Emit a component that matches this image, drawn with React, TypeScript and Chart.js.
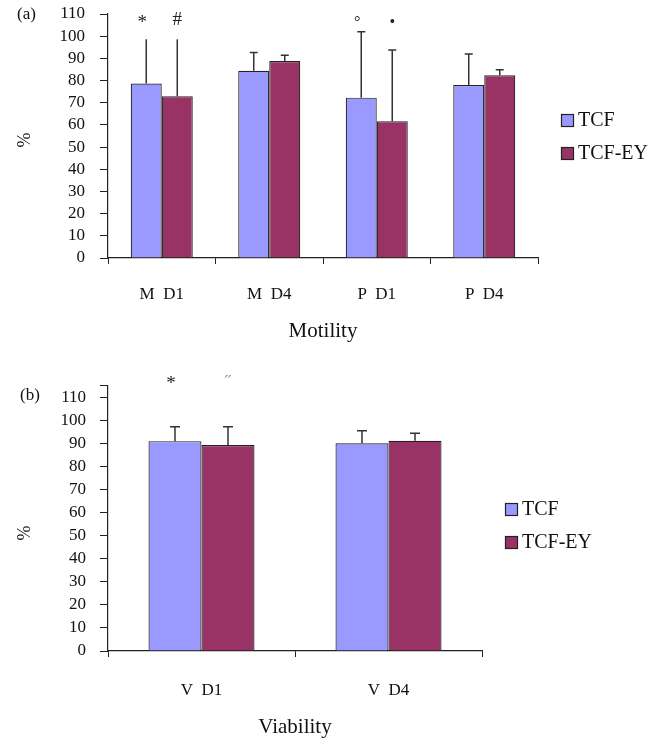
import React, { useEffect, useRef } from "react";
import { Chart, registerables } from "chart.js";

Chart.register(...registerables);

const FONT = '"Liberation Serif", "Times New Roman", serif';

// ---------- data ----------
const seriesNames = ["TCF", "TCF-EY"];
const seriesColors = ["#9999FF", "#993366"];

const motilityCategories = ["M  D1", "M  D4", "P  D1", "P  D4"];
const motilityTCF = [78.7, 84.4, 72.3, 78.0];
const motilityTCFsd = [19.9, 8.2, 29.7, 14.0];
const motilityEY = [72.9, 88.8, 61.6, 82.4];
const motilityEYsd = [25.7, 2.6, 32.2, 2.5];
const motilityCaps = [false, true, true, true];
const motilityTicks = [0, 10, 20, 30, 40, 50, 60, 70, 80, 90, 100, 110];
const motilityMarks = [
  { text: "*", ds: 0, idx: 0, v: 107.3 },
  { text: "#", ds: 1, idx: 0, v: 107.3 },
  { text: "°", ds: 0, idx: 2, v: 106.2 },
  { text: "•", ds: 1, idx: 2, v: 106.2 },
];

const viabilityCategories = ["V  D1", "V  D4"];
const viabilityTCF = [90.9, 90.0];
const viabilityTCFsd = [6.2, 5.4];
const viabilityEY = [89.2, 91.1];
const viabilityEYsd = [7.9, 3.2];
const viabilityCaps = [true, true];
const viabilityTicks = [0, 10, 20, 30, 40, 50, 60, 70, 80, 90, 100, 110, 115];
const viabilityMarks = [
  { text: "*", ds: 0, idx: 0, v: 116.9 },
  { text: "\u02DD", ds: 1, idx: 0, v: 116.0 },
];

type PanelCfg = {
  top: number;
  height: number;
  categories: string[];
  values: number[][];
  sds: number[][];
  caps: boolean[];
  ticks: number[];
  max: number;
  marks: { text: string; ds: number; idx: number; v: number }[];
  panelLabel: string;
  axisTitle: string;
  // layout
  padTop: number;
  padRight: number;
  xScaleHeight: number;
  yLabelPad: number;
  xLabelPad: number;
  catPct: number;
  capW: number;
  panelLabelPos: [number, number];
  pctPos: [number, number];
  titleY: number;
  legendPos: [number, number];
};

const panels: PanelCfg[] = [
  {
    top: 0,
    height: 362,
    categories: motilityCategories,
    values: [motilityTCF, motilityEY],
    sds: [motilityTCFsd, motilityEYsd],
    caps: motilityCaps,
    ticks: motilityTicks,
    max: 110,
    marks: motilityMarks,
    panelLabel: "(a)",
    axisTitle: "Motility",
    padTop: 14,
    padRight: 120,
    xScaleHeight: 104,
    yLabelPad: 15,
    xLabelPad: 20,
    catPct: 0.577,
    capW: 8,
    panelLabelPos: [17, 15],
    pctPos: [25, 140],
    titleY: 331,
    legendPos: [561, 114],
  },
  {
    top: 362,
    height: 379,
    categories: viabilityCategories,
    values: [viabilityTCF, viabilityEY],
    sds: [viabilityTCFsd, viabilityEYsd],
    caps: viabilityCaps,
    ticks: viabilityTicks,
    max: 115,
    marks: viabilityMarks,
    panelLabel: "(b)",
    axisTitle: "Viability",
    padTop: 23.5,
    padRight: 176,
    xScaleHeight: 90,
    yLabelPad: 14,
    xLabelPad: 23,
    catPct: 0.567,
    capW: 10,
    panelLabelPos: [20, 34],
    pctPos: [25, 171],
    titleY: 365,
    legendPos: [505, 141],
  },
];

function makeOverlay(cfg: PanelCfg) {
  return {
    id: "overlay",
    afterDatasetsDraw(chart: any) {
      const ctx: CanvasRenderingContext2D = chart.ctx;
      const y = chart.scales.y;
      ctx.save();
      // error bars
      chart.data.datasets.forEach((ds: any, di: number) => {
        const meta = chart.getDatasetMeta(di);
        meta.data.forEach((bar: any, i: number) => {
          const topPx = y.getPixelForValue(ds.data[i] + cfg.sds[di][i]);
          ctx.strokeStyle = "#333";
          ctx.lineWidth = 1.5;
          ctx.beginPath();
          ctx.moveTo(bar.x, bar.y);
          ctx.lineTo(bar.x, topPx);
          if (cfg.caps[i]) {
            ctx.moveTo(bar.x - cfg.capW / 2, topPx);
            ctx.lineTo(bar.x + cfg.capW / 2, topPx);
          }
          ctx.stroke();
        });
      });
      // significance marks
      ctx.textAlign = "center";
      ctx.textBaseline = "middle";
      cfg.marks.forEach((m) => {
        const bar: any = chart.getDatasetMeta(m.ds).data[m.idx];
        const py = y.getPixelForValue(m.v);
        ctx.fillStyle = m.text === "\u02DD" ? "#999" : "#222";
        ctx.font = `${m.text === "•" || m.text === "°" ? 16 : 19}px ${FONT}`;
        ctx.fillText(m.text, bar.x - (m.ds === 0 ? 4 : 0), py + (m.text === "*" ? 3 : 0));
      });
      ctx.restore();
    },
    afterDraw(chart: any) {
      const ctx: CanvasRenderingContext2D = chart.ctx;
      const area = chart.chartArea;
      ctx.save();
      ctx.fillStyle = "#111";
      // panel label
      ctx.font = `17px ${FONT}`;
      ctx.textAlign = "left";
      ctx.textBaseline = "middle";
      ctx.fillText(cfg.panelLabel, cfg.panelLabelPos[0], cfg.panelLabelPos[1]);
      // y title
      ctx.save();
      ctx.translate(cfg.pctPos[0], cfg.pctPos[1]);
      ctx.rotate(-Math.PI / 2);
      ctx.textAlign = "center";
      ctx.font = `18px ${FONT}`;
      ctx.fillText("%", 0, 0);
      ctx.restore();
      // x title
      ctx.textAlign = "center";
      ctx.font = `21px ${FONT}`;
      ctx.fillText(cfg.axisTitle, (area.left + area.right) / 2, cfg.titleY);
      // legend
      chart.data.datasets.forEach((ds: any, i: number) => {
        const bx = cfg.legendPos[0];
        const by = cfg.legendPos[1] + i * 33;
        ctx.fillStyle = ds.backgroundColor;
        ctx.fillRect(bx, by, 13, 13);
        ctx.strokeStyle = "#222";
        ctx.lineWidth = 1.2;
        ctx.strokeRect(bx + 0.5, by + 0.5, 12, 12);
        ctx.fillStyle = "#111";
        ctx.font = `20px ${FONT}`;
        ctx.textAlign = "left";
        ctx.textBaseline = "middle";
        ctx.fillText(ds.label, bx + 17, by + 7);
      });
      ctx.restore();
    },
  };
}

function Panel({ cfg }: { cfg: PanelCfg }) {
  const ref = useRef<HTMLCanvasElement | null>(null);
  useEffect(() => {
    if (!ref.current) return;
    const chart = new Chart(ref.current, {
      type: "bar",
      data: {
        labels: cfg.categories,
        datasets: cfg.values.map((vals, i) => ({
          label: seriesNames[i],
          data: vals,
          backgroundColor: seriesColors[i],
          borderColor: "#222",
          borderWidth: 1.2,
          categoryPercentage: cfg.catPct,
          barPercentage: 1.0,
        })),
      },
      options: {
        animation: false,
        responsive: false,
        maintainAspectRatio: false,
        layout: { padding: { top: cfg.padTop, right: cfg.padRight, left: 0, bottom: 0 } },
        plugins: { legend: { display: false }, tooltip: { enabled: false } },
        scales: {
          x: {
            grid: {
              display: true,
              drawOnChartArea: false,
              drawTicks: true,
              tickLength: 6,
              color: "#222",
              offset: true,
            },
            border: { display: true, color: "#222", width: 1.2 },
            ticks: {
              color: "#111",
              padding: cfg.xLabelPad,
              font: { family: FONT, size: 17 },
              maxRotation: 0,
              autoSkip: false,
            },
            afterFit: (s: any) => {
              s.height = cfg.xScaleHeight;
              s.paddingLeft = 0;
              s.paddingRight = 0;
            },
          },
          y: {
            min: 0,
            max: cfg.max,
            grid: {
              display: true,
              drawOnChartArea: false,
              drawTicks: true,
              tickLength: 8,
              color: "#222",
            },
            border: { display: true, color: "#222", width: 1.2 },
            ticks: {
              color: "#111",
              padding: cfg.yLabelPad,
              font: { family: FONT, size: 17 },
              autoSkip: false,
              callback: (v: any) => (Number(v) % 10 === 0 ? String(v) : ""),
            },
            afterBuildTicks: (s: any) => {
              s.ticks = cfg.ticks.map((v) => ({ value: v }));
            },
            afterFit: (s: any) => {
              s.width = 108;
              s.paddingTop = 0;
              s.paddingBottom = 0;
            },
          },
        },
      },
      plugins: [makeOverlay(cfg)],
    } as any);
    return () => chart.destroy();
  }, [cfg]);
  return (
    <canvas
      ref={ref}
      width={658}
      height={cfg.height}
      style={{ position: "absolute", left: 0, top: cfg.top, width: 658, height: cfg.height }}
    />
  );
}

export default function App() {
  return (
    <div
      style={{
        position: "absolute",
        left: 0,
        top: 0,
        width: 658,
        height: 741,
        background: "#fff",
        overflow: "hidden",
      }}
    >
      {panels.map((p, i) => (
        <Panel key={i} cfg={p} />
      ))}
    </div>
  );
}
